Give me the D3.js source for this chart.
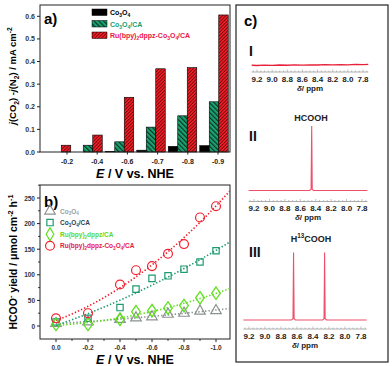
<!DOCTYPE html>
<html><head><meta charset="utf-8">
<script src="https://cdn.jsdelivr.net/npm/d3@7"></script>
<style>body{margin:0;background:#fff}svg{display:block;font-family:"Liberation Sans",Arial,sans-serif;font-weight:bold}</style>
</head><body><svg id="c" width="392" height="366"></svg>
<script>
// ---------- DATA ----------
const potA = ["-0.2","-0.4","-0.6","-0.7","-0.8","-0.9"];
const co3o4A   = [0, 0, 0.002, 0.008, 0.025, 0.028];
const co3o4caA = [0, 0.03, 0.045, 0.11, 0.16, 0.222];
const ruA      = [0.03, 0.075, 0.242, 0.368, 0.373, 0.606];
const yTicksA  = [0,0.1,0.2,0.3,0.4,0.5,0.6];

const potB      = [0, -0.2, -0.4, -0.5, -0.6, -0.7, -0.8, -0.9, -1.0];
const co3o4B    = [5, 8, 13, 16, 18, 23, 25, 29, 30];
const co3o4caB  = [8, 15, 36, 72, 93, 98, 111, 125, 147];
const ruDppzB   = [3, 3, 13, 28, 30, 35, 40, 55, 64];
const ruCoB     = [15, 25, 81, 109, 117, 141, 160, 212, 234];
const xTicksB   = [0, -0.2, -0.4, -0.6, -0.8, -1.0];
const yTicksB   = [0, 50, 100, 150, 200, 250];

const ppmTicks  = [9.2, 9.0, 8.8, 8.6, 8.4, 8.2, 8.0, 7.8];
const specI   = [[9.27,0.004],[9.2,0.0],[9.1,0.006],[9.0,0.002],[8.9,0.008],[8.8,0.004],[8.7,0.01],[8.6,0.006],[8.5,0.012],[8.4,0.008],[8.3,0.014],[8.2,0.01],[8.1,0.016],[8.0,0.012],[7.9,0.018],[7.8,0.015],[7.73,0.02]];
const specII  = [[9.27,0],[8.48,0],[8.46,0.02],[8.452,1],[8.445,0.02],[8.43,0],[7.73,0]];
const specIII = [[9.27,0],[8.67,0],[8.65,0.02],[8.643,1],[8.636,0.02],[8.62,0],[8.28,0],[8.262,0.02],[8.255,1],[8.248,0.02],[8.23,0],[7.73,0]];

// ---------- HELPERS ----------
const svg = d3.select("#c");
const defs = svg.append("defs");
function rich(t, parts, fs){
  let shift = 0;
  parts.forEach(p=>{
    const [s,k] = Array.isArray(p)?p:[p,""];
    const ts = t.append("tspan").text(s);
    const target = k==="sub"?0.3*fs : k==="sup"?-0.4*fs : 0;
    if (target!==shift) ts.attr("dy", target-shift);
    shift = target;
    if (k==="sub"||k==="sup") ts.attr("font-size", fs*0.7);
    if (k==="i") ts.attr("font-style","italic");
  });
  return t;
}
function pat(id, bg, fg, size, w, dir){
  const p = defs.append("pattern").attr("id",id).attr("patternUnits","userSpaceOnUse")
    .attr("width",size).attr("height",size).attr("patternTransform","rotate("+dir+")");
  p.append("rect").attr("width",size).attr("height",size).attr("fill",bg);
  p.append("rect").attr("width",w).attr("height",size).attr("fill",fg);
}
pat("hRed","#ee1c24","#6a0a0e",2.4,0.8,45);
pat("hGreen","#1aa36e","#0b3326",3.4,1.2,-45);

// ---------- PANEL A ----------
const A = {l:40,r:230,t:5,b:152};
const xA = d3.scaleBand().domain(potA).range([40.75,229.75]).padding(0);
const xLab = d3.scalePoint().domain(potA).range([67,218]);
const yA = d3.scaleLinear().domain([0,0.65]).range([A.b,A.t]);
const gA = svg.append("g");
const series = [["Co3O4",co3o4A,"#000"],["Co3O4/CA",co3o4caA,"url(#hGreen)"],["Ru",ruA,"url(#hRed)"]];
const bw = 9.5;
series.forEach((s,si)=>{
  gA.selectAll(null).data(s[1]).enter().append("rect")
    .attr("x",(d,i)=>xA(potA[i])+xA.bandwidth()/2+(si-1)*bw-bw/2)
    .attr("y",d=>yA(d)).attr("width",bw).attr("height",d=>A.b-yA(d))
    .attr("fill",s[2]).attr("stroke","#000").attr("stroke-width",0.6);
});
gA.append("rect").attr("x",A.l).attr("y",A.t).attr("width",A.r-A.l).attr("height",A.b-A.t)
  .attr("fill","none").attr("stroke","#222").attr("stroke-width",1);
yTicksA.forEach(v=>{
  gA.append("line").attr("x1",A.l-3).attr("x2",A.l).attr("y1",yA(v)).attr("y2",yA(v)).attr("stroke","#222");
  gA.append("text").attr("x",A.l-5).attr("y",yA(v)+2.5).attr("text-anchor","end").attr("font-size",7).attr("fill","#333").text(v.toFixed(1));
});
potA.forEach(p=>{
  const cx = xLab(p);
  gA.append("line").attr("x1",cx).attr("x2",cx).attr("y1",A.b).attr("y2",A.b+2.5).attr("stroke","#222");
  gA.append("text").attr("x",cx).attr("y",A.b+12).attr("text-anchor","middle").attr("font-size",7).attr("fill","#222").text(p);
});
gA.append("text").attr("x",44).attr("y",24).attr("font-size",15).text("a)");
rich(gA.append("text").attr("x",135).attr("y",178).attr("text-anchor","middle").attr("font-size",12.5),
  [["E","i"]," / V vs. NHE"],12.5);
rich(gA.append("text").attr("transform","translate(16,76) rotate(-90)").attr("text-anchor","middle").attr("font-size",9.5),
  [["j","i"],"(CO",["2","sub"],") -",["j","i"],"(N",["2","sub"],") / mA cm",["-2","sup"]],9.5);
// legend a
const legA = [["#000","#000",["Co",["3","sub"],"O",["4","sub"]]],
              ["url(#hGreen)","#17a06c",["Co",["3","sub"],"O",["4","sub"],"/CA"]],
              ["url(#hRed)","#e8174a",["Ru(bpy)",["2","sub"],"dppz-Co",["3","sub"],"O",["4","sub"],"/CA"]]];
legA.forEach((L,i)=>{
  const y = 9+i*11.5;
  gA.append("rect").attr("x",92).attr("y",y).attr("width",15).attr("height",6.5).attr("fill",L[0]).attr("stroke","#000").attr("stroke-width",0.5);
  rich(gA.append("text").attr("x",110).attr("y",y+6).attr("font-size",7).attr("fill",L[1]),L[2],7);
});

// ---------- PANEL B ----------
const B = {l:40,r:230,t:185,b:339};
const xB = d3.scaleLinear().domain([0,-1]).range([56,216]);
const yB = d3.scaleLinear().domain([0,250]).range([326,198]);
const gB = svg.append("g");
gB.append("rect").attr("x",B.l).attr("y",B.t).attr("width",B.r-B.l).attr("height",B.b-B.t)
  .attr("fill","none").attr("stroke","#222").attr("stroke-width",1);
d3.range(0,276,25).forEach(v=>{
  const major = v%50===0;
  gB.append("line").attr("x1",B.l-(major?3:1.8)).attr("x2",B.l).attr("y1",yB(v)).attr("y2",yB(v)).attr("stroke","#222");
});
yTicksB.forEach(v=>gB.append("text").attr("x",B.l-5).attr("y",yB(v)+2.5).attr("text-anchor","end").attr("font-size",6.5).attr("fill","#333").text(v));
d3.range(0,-1.05,-0.1).forEach((v,i)=>{
  gB.append("line").attr("x1",xB(v)).attr("x2",xB(v)).attr("y1",B.b).attr("y2",B.b+(i%2?1.8:3)).attr("stroke","#222");
});
xTicksB.forEach(v=>gB.append("text").attr("x",xB(v)).attr("y",B.b+11).attr("text-anchor","middle").attr("font-size",6.5).attr("fill","#333").text(v.toFixed(1)));
gB.append("text").attr("x",44).attr("y",207).attr("font-size",15).text("b)");
rich(gB.append("text").attr("x",135).attr("y",364).attr("text-anchor","middle").attr("font-size",12.5),
  [["E","i"]," / V vs. NHE"],12.5);
rich(gB.append("text").attr("transform","translate(17,262) rotate(-90)").attr("text-anchor","middle").attr("font-size",10.5),
  ["HCOO",["-","sup"]," yield / \u03bcmol cm",["-2","sup"]," h",["-1","sup"]],10.5);
function quadFit(xs,ys){
  let S=[0,0,0,0,0],T=[0,0,0];
  xs.forEach((x,i)=>{for(let k=0;k<5;k++)S[k]+=Math.pow(x,k);for(let k=0;k<3;k++)T[k]+=ys[i]*Math.pow(x,k);});
  const M=[[S[0],S[1],S[2],T[0]],[S[1],S[2],S[3],T[1]],[S[2],S[3],S[4],T[2]]];
  for(let i=0;i<3;i++){for(let j=i+1;j<3;j++){const f=M[j][i]/M[i][i];for(let k=i;k<4;k++)M[j][k]-=f*M[i][k];}}
  const c=[0,0,0];for(let i=2;i>=0;i--){let s=M[i][3];for(let k=i+1;k<3;k++)s-=M[i][k]*c[k];c[i]=s/M[i][i];}
  return x=>c[0]+c[1]*x+c[2]*x*x;
}
const clip = defs.append("clipPath").attr("id","clipB");
clip.append("rect").attr("x",B.l).attr("y",B.t).attr("width",B.r-B.l).attr("height",B.b-B.t);
const seriesB = [
  {v:co3o4B, c:"#8c9191", sym:d3.symbolTriangle, size:48, tc:"#9aa0a0", lab:["Co",["3","sub"],"O",["4","sub"]]},
  {v:co3o4caB, c:"#1e9a70", sym:d3.symbolSquare, size:40, tc:"#2a4450", lab:["Co",["3","sub"],"O",["4","sub"],"/CA"]},
  {v:ruDppzB, c:"#5fe01c", sym:d3.symbolDiamond, size:50, tc:"#5ed81c", lab:["Ru(bpy)",["2","sub"],"dppz/CA"]},
  {v:ruCoB, c:"#f0202e", sym:d3.symbolCircle, size:62, tc:"#e8174a", lab:["Ru(bpy)",["2","sub"],"dppz-Co",["3","sub"],"O",["4","sub"],"/CA"]}
];
const xsFit = d3.range(0,-1.1,-0.01);
seriesB.forEach(s=>{
  const f = quadFit(potB,s.v);
  gB.append("path").attr("clip-path","url(#clipB)")
    .attr("d",d3.line().x(d=>xB(d)).y(d=>yB(f(d)))(xsFit))
    .attr("fill","none").attr("stroke",s.c).attr("stroke-width",1.6).attr("stroke-dasharray","1.4,2");
});
seriesB.forEach(s=>{
  const sh = d3.symbol().type(s.sym).size(s.size);
  gB.selectAll(null).data(s.v).enter().append("path")
    .attr("transform",(d,i)=>`translate(${xB(potB[i])},${yB(d)})${s.sym===d3.symbolDiamond?" scale(1.15,0.95)":""}`)
    .attr("d",sh).attr("fill","none").attr("stroke",s.c).attr("stroke-width",1.2);
});
seriesB.forEach((s,i)=>{
  const y = 211+i*11.6;
  gB.append("path").attr("transform",`translate(50,${y})`).attr("d",d3.symbol().type(s.sym).size(s.size)())
    .attr("fill","none").attr("stroke",s.c).attr("stroke-width",1.2);
  rich(gB.append("text").attr("x",60).attr("y",y+2.5).attr("font-size",6.5).attr("fill",s.tc),s.lab,6.5);
});

// ---------- PANEL C ----------
const gC = svg.append("g");
gC.append("rect").attr("x",236).attr("y",5).attr("width",152).attr("height",357).attr("fill","none").attr("stroke","#222").attr("stroke-width",1.2);
gC.append("text").attr("x",244).attr("y",26).attr("font-size",15).text("c)");
const specs = [
  {d:specI, x0:257, x1:363, base:65.5, h:60, axis:72, col:"#e8203a", lab:"I", ly:56},
  {d:specII, x0:254, x1:362, base:190.5, h:64.5, axis:201.5, col:"#f0506a", lab:"II", ly:141, title:["HCOOH"], ty:121},
  {d:specIII, x0:249, x1:361, base:320, h:67.5, axis:329, col:"#f0506a", lab:"III", ly:257, title:["H",["13","sup"],"COOH"], ty:242}
];
specs.forEach(S=>{
  const x = d3.scaleLinear().domain([9.2,7.8]).range([S.x0,S.x1]);
  const y = d3.scaleLinear().domain([0,1]).range([S.base,S.base-S.h]);
  gC.append("path").attr("d",d3.line().x(d=>x(d[0])).y(d=>y(d[1]))(S.d))
    .attr("fill","none").attr("stroke",S.col).attr("stroke-width",S.lab==="I"?1.3:1.1);
  gC.append("line").attr("x1",x(9.27)).attr("x2",x(7.73)).attr("y1",S.axis).attr("y2",S.axis).attr("stroke","#999").attr("stroke-width",0.8);
  d3.range(9.25,7.74,-0.05).forEach(v=>{
    const major = Math.abs(Math.round(v*5)-v*5)<1e-6;
    gC.append("line").attr("x1",x(v)).attr("x2",x(v)).attr("y1",S.axis).attr("y2",S.axis-(major?2.5:1.5)).attr("stroke","#999").attr("stroke-width",0.6);
  });
  ppmTicks.forEach(v=>gC.append("text").attr("x",x(v)).attr("y",S.axis+9.5).attr("text-anchor","middle").attr("font-size",8).attr("fill","#222").text(v.toFixed(1)));
  rich(gC.append("text").attr("x",(S.x0+S.x1)/2).attr("y",S.axis+18.5).attr("text-anchor","middle").attr("font-size",8).attr("fill","#222"),
    [["\u03b4","i"],["/ ",""],"ppm"],8);
  gC.append("text").attr("x",249).attr("y",S.ly).attr("font-size",14).attr("fill","#111").text(S.lab);
  if(S.title) rich(gC.append("text").attr("x",311).attr("y",S.ty).attr("text-anchor","middle").attr("font-size",9).attr("fill","#222"),S.title,9);
});
</script></body></html>
